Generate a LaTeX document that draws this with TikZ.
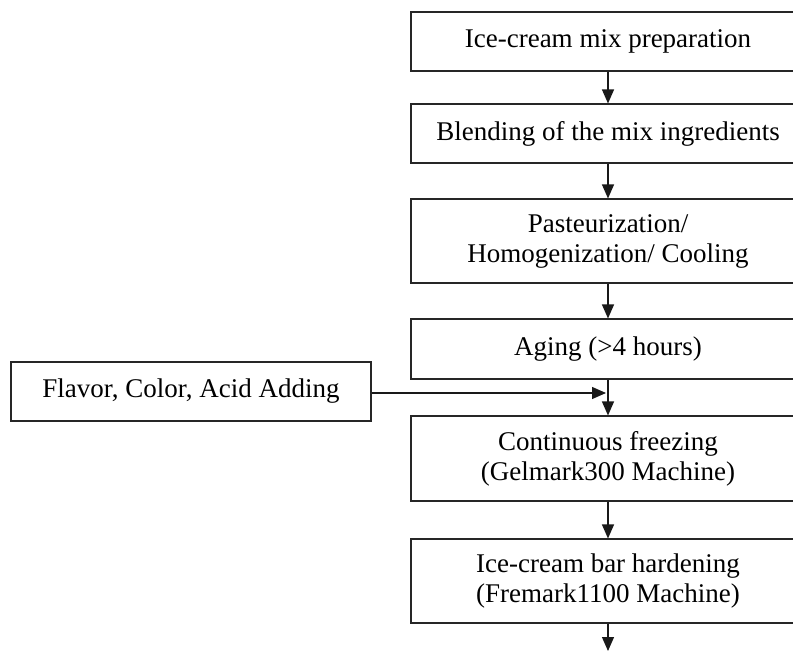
\documentclass[tikz,border=0pt]{standalone}
\usepackage{fontspec}
\setmainfont{Liberation Serif}
\usetikzlibrary{arrows.meta}
\begin{document}
\begin{tikzpicture}[x=1pt,y=-1pt,
  stepbox/.style={draw=black!85, line width=1.1pt, rectangle, inner sep=0pt,
    minimum width=394pt, align=center,
    font=\fontsize{27}{30}\selectfont},
  sidebox/.style={stepbox, minimum width=360pt},
  flow/.style={draw=black!90, line width=1.2pt,
    -{Triangle[length=14pt,width=12pt]}}]
  \useasboundingbox (0,0) rectangle (793,652);
  \clip (0,0) rectangle (793,652);

  % main process column (boxes run off the right edge)
  \node[stepbox, minimum height=59pt] (mix)   at (608,41.5)  {Ice-cream mix preparation};
  \node[stepbox, minimum height=59pt] (blend) at (608,133.5) {Blending of the mix ingredients};
  \node[stepbox, minimum height=84pt] (past)  at (608,241)   {Pasteurization/\\Homogenization/ Cooling};
  \node[stepbox, minimum height=60pt] (aging) at (608,349)   {Aging (>4 hours)};
  \node[stepbox, minimum height=85pt] (freeze) at (608,458.5) {Continuous freezing\\(Gelmark300 Machine)};
  \node[stepbox, minimum height=84pt] (hard)  at (608,581)   {Ice-cream bar hardening\\(Fremark1100 Machine)};

  % side input
  \node[sidebox, minimum height=59pt] (flavor) at (191,391.5) {Flavor, Color, Acid Adding};

  \coordinate (join) at (606,393);
  \coordinate (out) at (608,651);

  \draw[flow] (mix) -- (blend);
  \draw[flow] (blend) -- (past);
  \draw[flow] (past) -- (aging);
  \draw[flow] (aging) -- (freeze);
  \draw[flow] (freeze) -- (hard);
  \draw[flow] (hard) -- (out);
  \draw[flow] (flavor.east |- join) -- (join);
\end{tikzpicture}
\end{document}
